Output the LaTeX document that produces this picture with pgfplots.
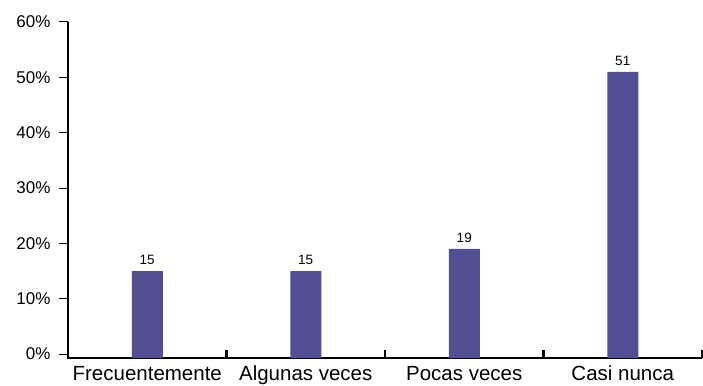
\documentclass[border=0pt]{standalone}
\usepackage{pgfplots}
\pgfplotsset{compat=1.18}
\usepackage{fontspec}
\setmainfont{Liberation Sans}
\definecolor{barblue}{RGB}{83,79,148}

\begin{document}
\begin{tikzpicture}
  \begin{axis}[
      scale only axis,
      width=634pt, height=336pt,
      xmin=-0.5, xmax=3.5,
      ymin=-0.72, ymax=60,
      axis x line*=bottom,
      axis y line*=left,
      axis line style={line width=2.6pt, black, shorten <=-1.3pt},
      ybar, bar width=31pt, bar shift=0pt,
      xtick={0,1,2,3},
      xticklabels={Frecuentemente, Algunas veces, Pocas veces, Casi nunca},
      x tick style={draw=none},
      xticklabel style={font=\fontsize{20.5}{22}\selectfont, text height=14.5pt, text depth=0pt, yshift=4.5pt},
      extra x ticks={0.5,1.5,2.5,3.5},
      extra x tick labels={},
      extra x tick style={tick align=inside, major tick length=8pt,
        x tick style={draw=black, line width=2.2pt}},
      ytick={0,10,...,60},
      yticklabel={\pgfmathprintnumber{\tick}\%},
      y tick style={line width=1pt, black},
      tick align=outside,
      major tick length=9pt,
      yticklabel style={font=\fontsize{17}{20}\selectfont, xshift=-5pt},
      /pgf/number format/assume math mode=true,
      clip=false,
    ]
    % main bars with value labels
    \addplot[fill=barblue, draw=none,
      nodes near coords,
      every node near coord/.append style={font=\fontsize{13.5}{15}\selectfont, black, yshift=3pt}]
      coordinates {(0,15) (1,15) (2,19) (3,51)};
    % small stub so the bars reach the axis line below 0%
    \addplot[fill=barblue, draw=none]
      coordinates {(0,-0.72) (1,-0.72) (2,-0.72) (3,-0.72)};
  \end{axis}
  \pgfresetboundingbox
  \path (-68pt,-27pt) rectangle (635pt,358pt);
\end{tikzpicture}
\end{document}
